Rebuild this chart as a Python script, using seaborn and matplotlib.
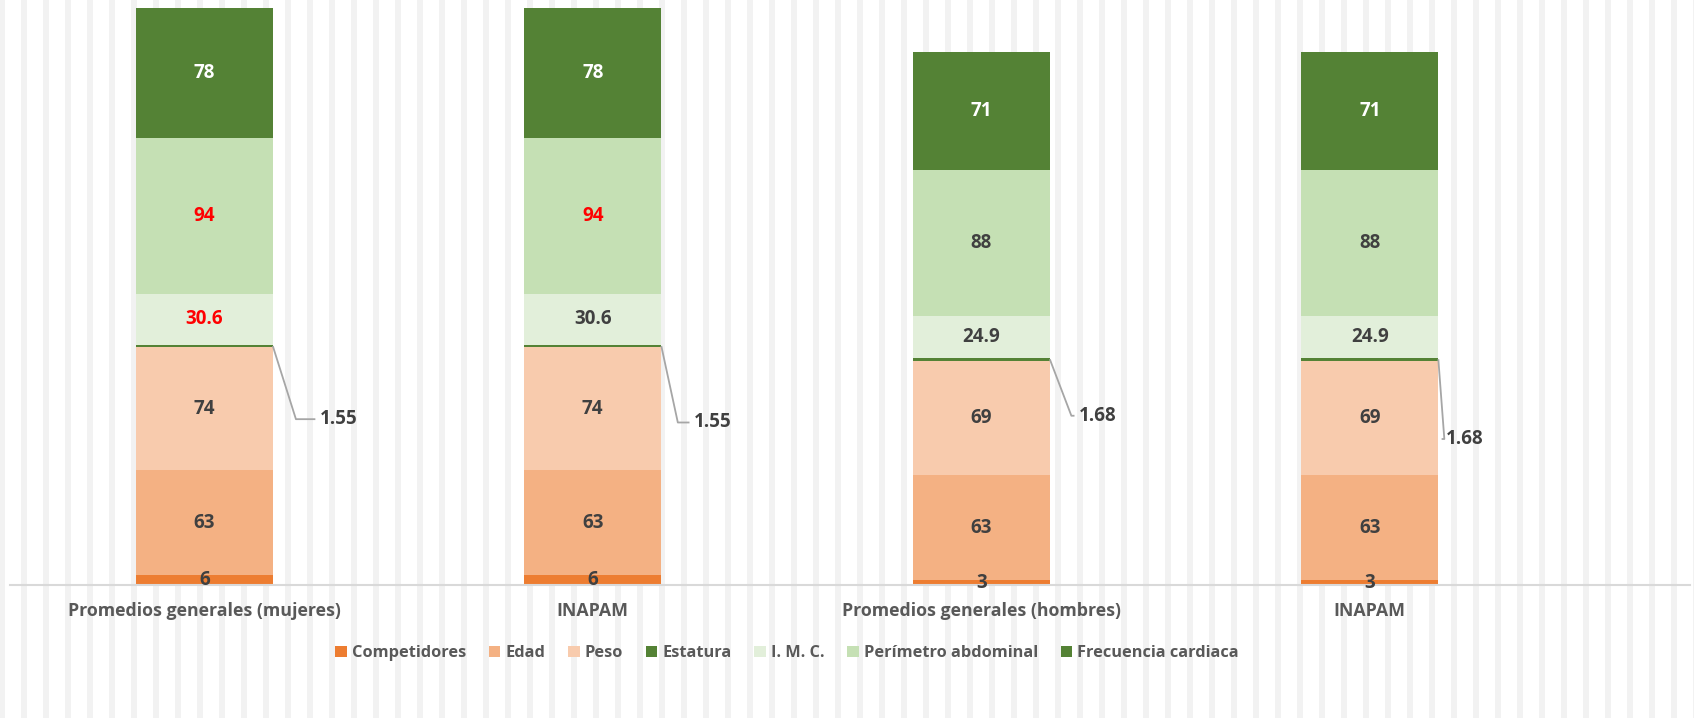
import numpy as np
import pandas as pd
import matplotlib
matplotlib.use('Agg')
import matplotlib.pyplot as plt
import seaborn as sns
from matplotlib.patches import Patch

# datos
categorias = ['Promedios generales (mujeres)', 'INAPAM', 'Promedios generales (hombres)', 'INAPAM']
series = ['Competidores', 'Edad', 'Peso', 'Estatura', 'I. M. C.', 'Perímetro abdominal', 'Frecuencia cardiaca']
competidores = [6, 6, 3, 3]
edad = [63, 63, 63, 63]
peso = [74, 74, 69, 69]
estatura = [1.55, 1.55, 1.68, 1.68]
imc = [30.6, 30.6, 24.9, 24.9]
perimetro = [94, 94, 88, 88]
frecuencia = [78, 78, 71, 71]
etiquetas_imc = ['30.6', '30.6', '24.9', '24.9']

colores = ['#ED7D31', '#F4B183', '#F8CBAD', '#548235', '#E2EFDA', '#C5E0B4', '#548235']
# color de texto por serie y barra
color_txt = {
    'Competidores': ['#404040'] * 4,
    'Edad': ['#404040'] * 4,
    'Peso': ['#404040'] * 4,
    'I. M. C.': ['#FF0000', '#404040', '#404040', '#404040'],
    'Perímetro abdominal': ['#FF0000', '#FF0000', '#404040', '#404040'],
    'Frecuencia cardiaca': ['white'] * 4,
}
# desplazamiento de la etiqueta de estatura (x en categorias, y en unidades)
lbl_dx = [0.346, 0.309, 0.30, 0.245]
lbl_dy = [-44, -46, -34, -48]
codo_dx = [0.07, 0.05, 0.028, 0.013]

valores = [competidores, edad, peso, estatura, imc, perimetro, frecuencia]

df = pd.DataFrame({'pos': np.repeat(np.arange(4), len(series)),
                   'serie': series * 4,
                   'valor': np.array(valores).T.flatten()})

sns.set_style('white')
plt.rcParams['font.family'] = ['Open Sans', 'DejaVu Sans']

fig = plt.figure(figsize=(16.94, 7.18), dpi=100)

# fondo con rayas verticales
bg = fig.add_axes([0, 0, 1, 1], zorder=-5)
bg.set_xlim(0, 1694)
bg.set_ylim(0, 1)
for xs in np.arange(-1, 1694, 22):
    bg.axvspan(xs, xs + 6, color='#F2F2F2', lw=0)
bg.axis('off')

ax = fig.add_axes([10 / 1694, 1 - 585 / 718, 1680 / 1694, 585 / 718])
ax.patch.set_alpha(0)

ancho = 0.353
base = np.zeros(4)
for s, c in zip(series, colores):
    d = df[df['serie'] == s]
    sns.barplot(data=d, x='pos', y='valor', color=c, width=ancho, bottom=base,
                ax=ax, saturation=1, errorbar=None, linewidth=0, edgecolor=c)
    vals = d['valor'].to_numpy()
    if s == 'Estatura':
        for i in range(4):
            yb = base[i] + vals[i] / 2
            x0 = i + ancho / 2
            xt = i + lbl_dx[i]
            yt = yb + lbl_dy[i]
            ax.plot([x0, xt - codo_dx[i] - 0.04, xt - 0.06], [yb, yt, yt], color='#A6A6A6', lw=1.3,
                    solid_capstyle='butt')
            ax.text(xt, yt, f'{vals[i]:.2f}', ha='center', va='center', fontsize=13.5,
                    fontweight='bold', color='#404040')
    else:
        for i in range(4):
            txt = etiquetas_imc[i] if s == 'I. M. C.' else f'{vals[i]:g}'
            ax.text(i, base[i] + vals[i] / 2, txt, ha='center', va='center', fontsize=13.5,
                    fontweight='bold', color=color_txt[s][i])
    base = base + vals

ax.set_xlim(-0.5, -0.5 + 1680 / 388.5)
ax.set_ylim(0, 585 / 1.662)
ax.set_xticks(range(4))
ax.set_xticklabels(categorias, fontsize=12.8, fontweight='bold', color='#595959')
ax.tick_params(axis='x', length=0, pad=12)
ax.set_yticks([])
ax.set_xlabel('')
ax.set_ylabel('')
for sp in ['left', 'right', 'top']:
    ax.spines[sp].set_visible(False)
ax.spines['bottom'].set_color('#D9D9D9')
ax.spines['bottom'].set_linewidth(1.5)

handles = [Patch(facecolor=c, edgecolor='none', label=s) for s, c in zip(series, colores)]
fig.legend(handles=handles, loc='center', bbox_to_anchor=(787 / 1694, 1 - 653 / 718), ncol=7,
           frameon=False, handlelength=0.7, handleheight=0.7, handletextpad=0.3, columnspacing=1.4,
           prop={'size': 11.8, 'weight': 'bold'}, labelcolor='#595959')

fig.savefig('out.png', dpi=100)
